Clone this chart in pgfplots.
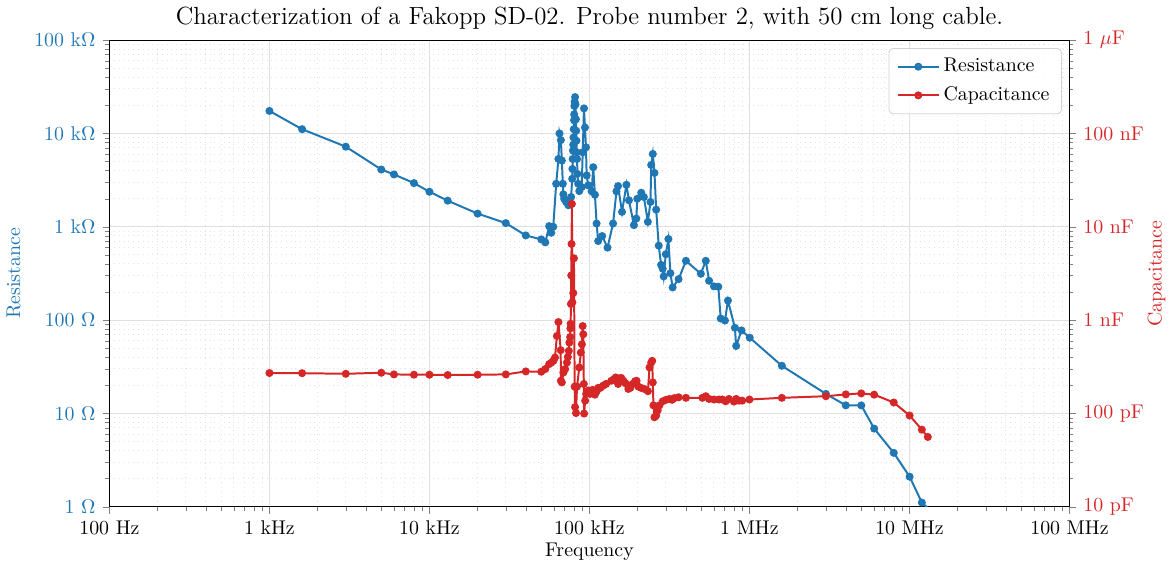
\documentclass[border=0pt]{standalone}
\usepackage{pgfplots}
\pgfplotsset{compat=1.18}
\definecolor{tabblue}{HTML}{1F77B4}
\definecolor{tabred}{HTML}{D62728}

% frequency (Hz) / resistance (Ohm)
\pgfplotstableread{
f R
1000 17440
1600 11110
3000 7220
5000 4110
6000 3640
8000 2940
10000 2375
13000 1905
20000 1385
30000 1095
40000 808
50000 733
53000 681
56000 1017
57700 863
59400 1000
61950 2890
64000 5330
64960 10000
66270 8490
67230 5130
68190 2890
68700 2227
69480 2000
71480 1845
73880 1703
76460 1745
76790 2084
78000 3270
78300 4170
78600 5330
78900 6550
79200 7590
79500 9060
79800 11110
80100 13850
80300 16030
80500 19710
80800 21880
81300 24550
81800 20500
82300 14200
82600 10700
82900 8360
83300 6280
83700 5330
84100 3690
85000 2890
86400 2415
89450 2665
90740 6280
92430 18580
93760 11580
95110 7100
96070 3550
98290 2780
103200 2400
105600 4350
108200 2206
110800 1084
113400 704
120100 796
129700 598
140500 1084
147500 2400
150900 2730
159800 1445
170200 2820
176600 1923
189700 1042
196300 1225
199100 2000
210800 2317
218800 2084
231700 1130
240700 1845
243200 4600
248800 6030
254900 3780
261200 1528
271000 628
280500 391
287000 355
291000 294
300000 508
311500 740
320500 318
331100 224
360700 275
400900 432
496700 314
533500 432
559300 264
600500 230
638800 228
661100 104
703000 99
733800 162
810900 82.8
826000 52.9
892300 77.6
1004000 64.8
1594000 32.4
3006000 16.2
4000000 12.2
4998000 12.2
6018000 6.88
7977000 3.78
10020000 2.10
11950000 1.11
13020000 0.97
}\restable

% frequency (Hz) / capacitance (pF)
\pgfplotstableread{
f C
1000 271
1600 270
3000 266
5000 273
6000 262
8000 260
10000 260
13000 258
20000 260
30000 262
40000 282
50000 280
53000 299
56000 338
57700 350
59500 366
60900 397
62600 676
64000 953
66100 476
66300 224
67200 215
68800 275
70500 299
72300 351
73300 404
74300 468
74900 574
75700 659
76000 816
76300 914
76600 1490
77000 3010
77300 6550
77700 17600
78200 1550
79200 1950
80000 4600
80800 194
81300 117
82400 101
83600 194
86400 311
88300 449
89700 551
90700 863
91500 705
92200 207
92600 99.7
94000 137
95500 162
98300 176
101000 162
104700 179
108200 159
111000 173
113400 188
117000 188
122000 199
127000 207
137000 224
143000 234
146000 243
151000 207
153000 237
158000 240
163000 224
168000 210
175000 183
180000 188
186000 207
193000 221
197000 224
202000 194
210000 188
220000 183
232000 173
237300 311
243200 351
246600 366
248800 215
251200 122
254900 91
261200 95
267200 108
273800 122
287000 135
301300 140
315800 143
328300 140
339300 146
360700 149
400900 147
508200 147
533500 153
559300 143
600500 141
645300 141
676200 141
709900 135
744200 143
799200 134
826000 143
858300 137
900000 137
1000000 141
1594000 147
3006000 153
4000000 160
4998000 164
6018000 159
7977000 131
10020000 95
11950000 67
13020000 56
}\captable

\begin{document}
\begin{tikzpicture}
\begin{axis}[
  scale only axis, width=483.5pt, height=235pt,
  xmode=log, ymode=log, xmin=100, xmax=1e8,
  ymin=1, ymax=1e5,
  tick align=outside,
  major tick length=3.5pt, minor tick length=2pt,
  axis line style={line width=0.6pt},
  xtick={1e2,1e3,1e4,1e5,1e6,1e7,1e8},
  xticklabels={100 Hz,1 kHz,10 kHz,100 kHz,1 MHz,10 MHz,100 MHz},
  ytick={1,10,100,1000,10000,100000},
  yticklabels={1 $\Omega$,10 $\Omega$,100 $\Omega$,1 k$\Omega$,10 k$\Omega$,100 k$\Omega$},
  yticklabel style={text=tabblue},
  tick pos=left,
  grid=both,
  major grid style={gray!25, line width=0.5pt},
  minor grid style={gray!22, dotted, line width=0.5pt},
  xlabel={Frequency},
  xlabel style={yshift=3pt},
  ylabel={Resistance},
  ylabel style={text=tabblue},
  title={\fontsize{12.5}{15}\selectfont Characterization of a Fakopp SD-02. Probe number 2, with 50 cm long cable.},
  title style={yshift=-4pt},
]
\addplot[tabblue, line width=1.0pt, mark=*, mark size=1.5pt] table[x=f, y=R]{\restable};
\end{axis}
\begin{axis}[
  scale only axis, width=483.5pt, height=235pt,
  xmode=log, ymode=log, xmin=100, xmax=1e8,
  ymin=10, ymax=1e6,
  tick align=outside,
  major tick length=3.5pt, minor tick length=2pt,
  axis line style={line width=0.6pt},
  axis x line=none, axis y line*=right,
  ytick={10,100,1000,10000,100000,1000000},
  yticklabels={10 pF,100 pF,1 nF,10 nF,100 nF,1 $\mu$F},
  yticklabel style={text=tabred},
  ylabel={Capacitance},
  ylabel style={text=tabred, yshift=5pt},
  legend style={at={(0.992,0.983)}, anchor=north east, draw=gray!35,
    rounded corners=2pt, fill=white, fill opacity=0.85, text opacity=1,
    row sep=2pt, inner xsep=4pt, inner ysep=3pt},
  legend cell align=left,
  legend image code/.code={
    \draw[mark repeat=2, mark phase=2] plot coordinates {(0cm,0cm) (0.36cm,0cm) (0.72cm,0cm)};},
]
\addlegendimage{tabblue, line width=1.0pt, mark=*, mark size=1.5pt}
\addlegendentry{Resistance}
\addplot[tabred, line width=1.0pt, mark=*, mark size=1.5pt] table[x=f, y=C]{\captable};
\addlegendentry{Capacitance}
\end{axis}
\end{tikzpicture}
\end{document}
